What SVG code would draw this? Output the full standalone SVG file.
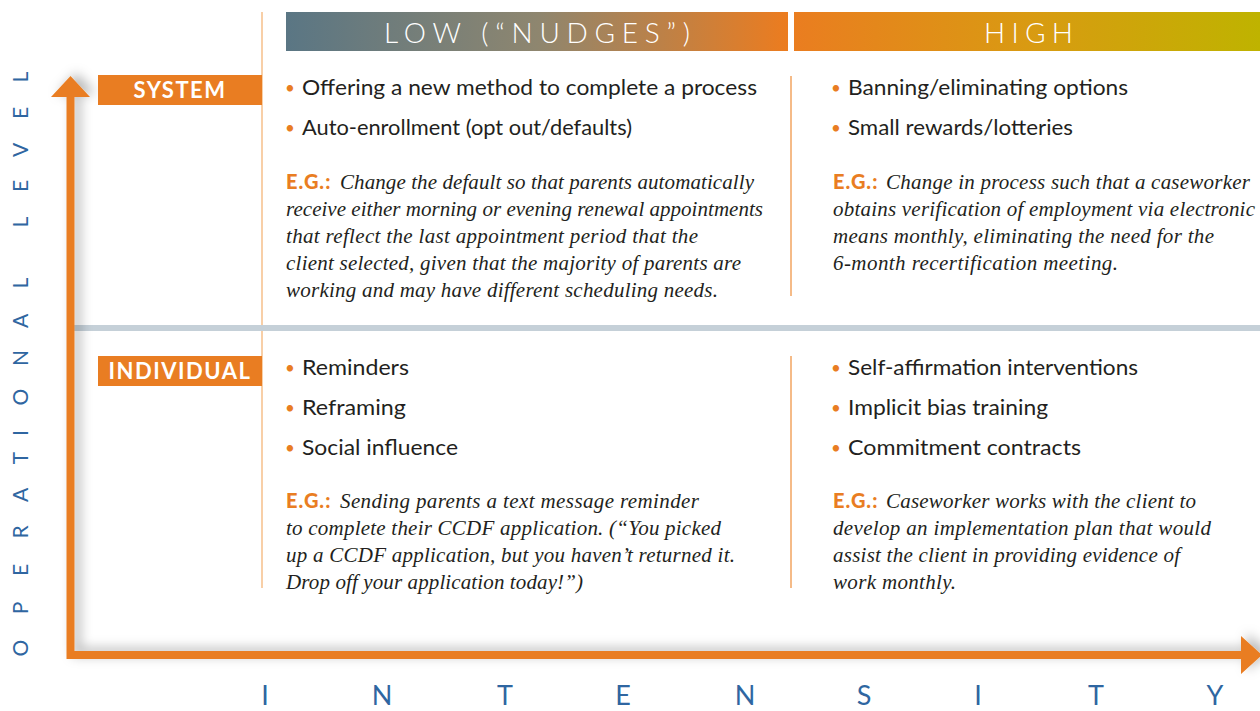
<svg xmlns="http://www.w3.org/2000/svg" width="1260" height="711" viewBox="0 0 1260 711">
  <defs>
    <linearGradient id="gLow" x1="0" y1="0" x2="1" y2="0">
      <stop offset="0" stop-color="#5a7684"/>
      <stop offset="0.5" stop-color="#8e866f"/>
      <stop offset="1" stop-color="#ec7c1f"/>
    </linearGradient>
    <linearGradient id="gHigh" x1="0" y1="0" x2="1" y2="0">
      <stop offset="0" stop-color="#ea7d20"/>
      <stop offset="0.5" stop-color="#d99a12"/>
      <stop offset="1" stop-color="#bfb300"/>
    </linearGradient>
    <filter id="shadow" x="-5%" y="-5%" width="110%" height="110%">
      <feGaussianBlur in="SourceAlpha" stdDeviation="6" result="b"/>
      <feOffset in="b" dx="6" dy="-3" result="o"/>
      <feFlood flood-color="#000" flood-opacity="0.28"/>
      <feComposite in2="o" operator="in" result="s"/>
      <feMerge><feMergeNode in="s"/><feMergeNode in="SourceGraphic"/></feMerge>
    </filter>
    <style>
      .hdr { font-family: Lato, "Liberation Sans", sans-serif; font-weight: 300; font-size: 28px; fill: #ffffff; }
      .axis { font-family: Lato, "Liberation Sans", sans-serif; font-weight: 400; fill: #2f66a1; }
      .tag { font-family: Lato, "Liberation Sans", sans-serif; font-weight: 700; font-size: 22px; fill: #ffffff; letter-spacing: 1.5px; }
      .item { font-family: Lato, "Noto Sans", sans-serif; font-size: 21px; fill: #231f20; }
      .dot { font-family: Lato, "Noto Sans", sans-serif; font-size: 17px; fill: #e97d22; }
      .eg { font-family: Lato, "Liberation Sans", sans-serif; font-weight: 900; font-size: 20px; fill: #e97d22; letter-spacing: 1px; }
      .ex { font-family: "Liberation Serif", "DejaVu Serif", serif; font-style: italic; font-size: 21px; fill: #231f20; }
      .tagbox { fill: #e97d22; }
      .thin { stroke: #f6bf8a; stroke-width: 1.5; fill: none; }
      .mid { stroke: #f2a560; stroke-width: 1.5; fill: none; }
    </style>
  </defs>
  <rect x="0" y="0" width="1260" height="711" fill="#ffffff"/>

  <!-- grid lines -->
  <g id="grid">
    <line class="thin" x1="262" y1="12" x2="262" y2="588"/>
    <line class="mid" x1="791" y1="76" x2="791" y2="296"/>
    <line class="mid" x1="791" y1="356" x2="791" y2="588"/>
    <rect x="74" y="325" width="1186" height="6" fill="#c5d0d8"/>
  </g>

  <!-- axes (connectors) -->
  <g id="connectors">
    <path filter="url(#shadow)" fill="#e97d22" d="M70.5,76 L90,97 L74.5,97 L74.5,651 L1241,651 L1241,636 L1262,655 L1241,674 L1241,659 L66.5,659 L66.5,97 L51,97 Z"/>
  </g>

  <!-- axis labels -->
  <g id="axis-y">
    <text class="axis" font-size="21" transform="translate(28,0) rotate(-90)" text-anchor="middle" x="-648 -608 -570 -532 -495 -458 -433 -397 -358 -321 -283 -252 -222 -186 -150 -113 -77" y="0">OPERATIONAL LEVEL</text>
  </g>
  <g id="axis-x">
    <text class="axis" font-size="27" font-weight="300" text-anchor="middle" x="265 382 505 623 745 864 978 1096 1215" y="705">INTENSITY</text>
  </g>

  <!-- headers -->
  <g id="header-low">
    <rect x="286" y="12" width="502" height="39" fill="url(#gLow)"/>
    <text class="hdr" x="384" y="43" textLength="306" lengthAdjust="spacing">LOW (“NUDGES”)</text>
  </g>
  <g id="header-high">
    <rect x="794" y="12" width="466" height="39" fill="url(#gHigh)"/>
    <text class="hdr" x="984" y="43" textLength="89" lengthAdjust="spacing">HIGH</text>
  </g>

  <!-- row tags -->
  <g id="tag-system">
    <rect class="tagbox" x="98" y="75" width="164" height="30"/>
    <text class="tag" x="180" y="98" text-anchor="middle">SYSTEM</text>
  </g>
  <g id="tag-individual">
    <rect class="tagbox" x="98" y="356" width="164" height="30"/>
    <text class="tag" x="180" y="379" text-anchor="middle">INDIVIDUAL</text>
  </g>

  <!-- cell: system / low -->
  <g id="cell-system-low">
    <text class="dot" x="290" y="94" text-anchor="middle">•</text>
    <text class="item" x="302" y="95" textLength="455" lengthAdjust="spacingAndGlyphs">Offering a new method to complete a process</text>
    <text class="dot" x="290" y="134" text-anchor="middle">•</text>
    <text class="item" x="302" y="135" textLength="330" lengthAdjust="spacingAndGlyphs">Auto-enrollment (opt out/defaults)</text>
    <text class="eg" x="286" y="189">E.G.:</text>
    <text class="ex" x="340" y="189" textLength="414" lengthAdjust="spacing">Change the default so that parents automatically</text>
    <text class="ex" x="286" y="216" textLength="477" lengthAdjust="spacing">receive either morning or evening renewal appointments</text>
    <text class="ex" x="286" y="243" textLength="412" lengthAdjust="spacing">that reflect the last appointment period that the</text>
    <text class="ex" x="286" y="270" textLength="455" lengthAdjust="spacing">client selected, given that the majority of parents are</text>
    <text class="ex" x="286" y="297" textLength="432" lengthAdjust="spacing">working and may have different scheduling needs.</text>
  </g>

  <!-- cell: system / high -->
  <g id="cell-system-high">
    <text class="dot" x="836" y="94" text-anchor="middle">•</text>
    <text class="item" x="848" y="95" textLength="280" lengthAdjust="spacingAndGlyphs">Banning/eliminating options</text>
    <text class="dot" x="836" y="134" text-anchor="middle">•</text>
    <text class="item" x="848" y="135" textLength="225" lengthAdjust="spacingAndGlyphs">Small rewards/lotteries</text>
    <text class="eg" x="833" y="189">E.G.:</text>
    <text class="ex" x="886" y="189" textLength="364" lengthAdjust="spacing">Change in process such that a caseworker</text>
    <text class="ex" x="833" y="216" textLength="422" lengthAdjust="spacing">obtains verification of employment via electronic</text>
    <text class="ex" x="833" y="243" textLength="381" lengthAdjust="spacing">means monthly, eliminating the need for the</text>
    <text class="ex" x="833" y="270" textLength="285" lengthAdjust="spacing">6-month recertification meeting.</text>
  </g>

  <!-- cell: individual / low -->
  <g id="cell-individual-low">
    <text class="dot" x="290" y="374" text-anchor="middle">•</text>
    <text class="item" x="302" y="375" textLength="107" lengthAdjust="spacingAndGlyphs">Reminders</text>
    <text class="dot" x="290" y="414" text-anchor="middle">•</text>
    <text class="item" x="302" y="415" textLength="104" lengthAdjust="spacingAndGlyphs">Reframing</text>
    <text class="dot" x="290" y="454" text-anchor="middle">•</text>
    <text class="item" x="302" y="455" textLength="156" lengthAdjust="spacingAndGlyphs">Social influence</text>
    <text class="eg" x="286" y="508">E.G.:</text>
    <text class="ex" x="340" y="508" textLength="359" lengthAdjust="spacing">Sending parents a text message reminder</text>
    <text class="ex" x="286" y="535" textLength="435" lengthAdjust="spacing">to complete their CCDF application. (“You picked</text>
    <text class="ex" x="286" y="562" textLength="449" lengthAdjust="spacing">up a CCDF application, but you haven’t returned it.</text>
    <text class="ex" x="286" y="589" textLength="297" lengthAdjust="spacing">Drop off your application today!”)</text>
  </g>

  <!-- cell: individual / high -->
  <g id="cell-individual-high">
    <text class="dot" x="836" y="374" text-anchor="middle">•</text>
    <text class="item" x="848" y="375" textLength="290" lengthAdjust="spacingAndGlyphs">Self-affirmation interventions</text>
    <text class="dot" x="836" y="414" text-anchor="middle">•</text>
    <text class="item" x="848" y="415" textLength="200" lengthAdjust="spacingAndGlyphs">Implicit bias training</text>
    <text class="dot" x="836" y="454" text-anchor="middle">•</text>
    <text class="item" x="848" y="455" textLength="233" lengthAdjust="spacingAndGlyphs">Commitment contracts</text>
    <text class="eg" x="833" y="508">E.G.:</text>
    <text class="ex" x="886" y="508" textLength="310" lengthAdjust="spacing">Caseworker works with the client to</text>
    <text class="ex" x="833" y="535" textLength="378" lengthAdjust="spacing">develop an implementation plan that would</text>
    <text class="ex" x="833" y="562" textLength="347" lengthAdjust="spacing">assist the client in providing evidence of</text>
    <text class="ex" x="833" y="589" textLength="123" lengthAdjust="spacing">work monthly.</text>
  </g>
</svg>
